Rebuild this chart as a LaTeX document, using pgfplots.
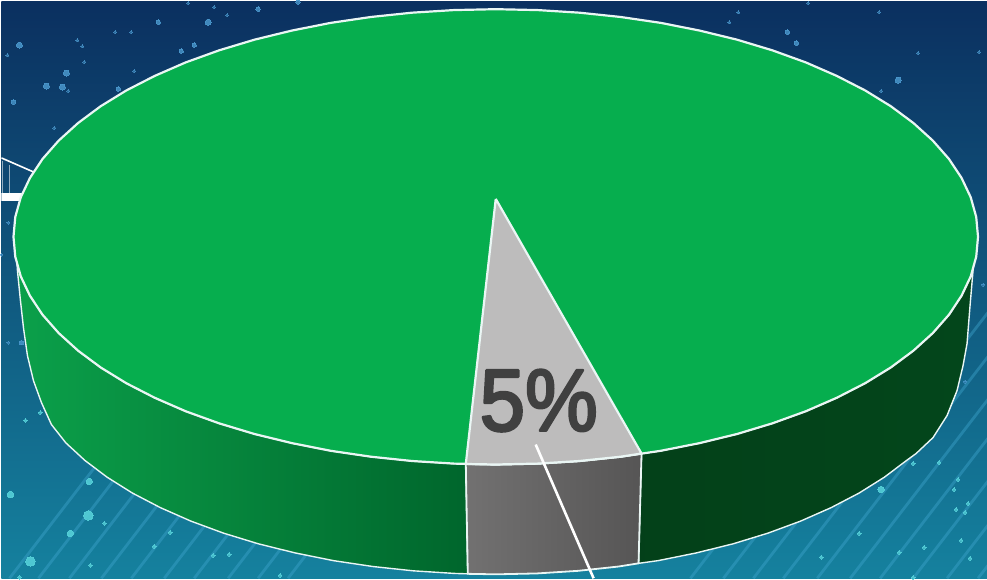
\documentclass[border=0pt]{standalone}
\usepackage{fontspec}
\setmainfont{Liberation Sans}
\newfontfamily\labelfont[FakeBold=3]{Liberation Sans}
\usepackage{pgfplots}
\pgfplotsset{compat=1.18}

\definecolor{bgtop}{HTML}{0B2F5F}
\definecolor{bgmid}{HTML}{0F5083}
\definecolor{bgbot}{HTML}{15829F}
\definecolor{pietop}{HTML}{06AE4E}
\definecolor{sideL}{HTML}{0BA04A}
\definecolor{sideM}{HTML}{00662C}
\definecolor{sideR}{HTML}{03461B}
\definecolor{sliceTop}{HTML}{BDBCBC}
\definecolor{sliceA}{HTML}{727171}
\definecolor{sliceB}{HTML}{565555}
\definecolor{edge}{HTML}{EAF6F4}
\definecolor{dustA}{HTML}{4A97CC}
\definecolor{dustB}{HTML}{55CFD8}
\definecolor{streak}{HTML}{3FA6CF}

\begin{document}
\begin{tikzpicture}
\begin{axis}[
    scale only axis,
    width=987pt,
    height=578pt,
    xmin=0,xmax=987,
    ymin=0,ymax=578,
    y dir=reverse,
    hide axis,
    unbounded coords=jump,
    line join=round
]
% background
\addplot[draw=none,top color=bgtop,middle color=bgmid,bottom color=bgbot]
    coordinates {(-6,-6) (993,-6) (993,584) (-6,584) (-6,-6)};

% diagonal streaks
\addplot[streak,opacity=.42,line width=2.8pt] coordinates {
    (8,578) (114,440) (8,nan)
    (37,578) (143,440) (37,nan)
    (68,578) (174,440) (68,nan)
    (100,578) (206,440) (100,nan)
    (130,578) (236,440) (130,nan)
    (163,578) (269,440) (163,nan)
    (193,578) (299,440) (193,nan)
    (227,578) (333,440) (227,nan)
    (257,578) (363,440) (257,nan)
    (287,578) (393,440) (287,nan)
    (690,578) (904,300) (690,nan)
    (723,578) (937,300) (723,nan)
    (753,578) (967,300) (753,nan)
    (783,578) (997,300) (783,nan)
    (817,578) (1031,300) (817,nan)
    (850,578) (1064,300) (850,nan)
    (880,578) (1094,300) (880,nan)
    (913,578) (1127,300) (913,nan)
    (947,578) (1161,300) (947,nan)
    (978,578) (1192,300)
};

% dust, upper part
\addplot[only marks,mark=*,mark size=3pt,mark options={draw=dustA,fill=dustA,line width=0pt,opacity=.85}] coordinates {
    (18,44) (65,72) (61,86) (45,85) (207,21) (898,79)
};
\addplot[only marks,mark=*,mark size=2.2pt,mark options={draw=dustA,fill=dustA,line width=0pt,opacity=.8}] coordinates {
    (180,50) (193,44) (157,21) (12,101) (117,88) (257,8) (297,1) (787,31) (796,42) (20,342)
};
\addplot[only marks,mark=*,mark size=1.5pt,mark options={draw=dustA,fill=dustA,line width=0pt,opacity=.6}] coordinates {
    (53,127) (76,39) (81,45) (83,61) (6,54) (67,90) (133,70) (114,31) (130,31) (226,14)
    (213,6) (187,2) (881,90) (808,2) (729,21) (738,11) (918,52) (979,51) (879,11)
    (7,222) (0,254) (7,342) (983,284) (965,381)
};

% dust, lower part
\addplot[only marks,mark=*,mark size=4.8pt,mark options={draw=dustB,fill=dustB,line width=0pt,opacity=.9}] coordinates {
    (29,561) (87,515)
};
\addplot[only marks,mark=*,mark size=3.2pt,mark options={draw=dustB,fill=dustB,line width=0pt,opacity=.9}] coordinates {
    (69,533) (88,481) (9,494) (881,489)
};
\addplot[only marks,mark=*,mark size=1.9pt,mark options={draw=dustB,fill=dustB,line width=0pt,opacity=.8}] coordinates {
    (103,523) (89,565) (169,532) (153,546) (212,555) (228,554) (39,412) (24,420) (18,577) (279,575)
    (859,533) (821,557) (899,552) (913,577) (913,463) (939,462) (958,479) (956,509) (968,503)
    (965,512) (954,489) (924,547) (961,540) (970,558)
};

% bridge behind the pie
\addplot[white,line width=8pt] coordinates {(0,196) (24,196)};
\addplot[white,line width=1.6pt] coordinates {(0,157) (32,171)};
\addplot[white,opacity=.55,line width=.9pt] coordinates {(1,160) (1,192) (1,nan) (8,164) (8,192)};

% side, left of the slice
\addplot[draw=edge,line width=1.4pt,left color=sideL,right color=sideM] coordinates {
    (465,463.5) (452.9,463.1) (411.2,460.5) (370,456.2) (329.8,450.3) (290.9,442.6) (253.5,433.5)
    (218,422.8) (184.5,410.7) (153.5,397.2) (125,382.6) (99.3,366.8) (76.7,350) (57.3,332.4)
    (41.1,314) (28.5,295) (19.3,275.6) (15.5,262)
    (16,270) (19,300) (22,327) (26,355) (32,380) (40,402) (50,424) (64.5,442.4) (83.6,460)
    (105.9,476.8) (131.1,492.6) (159.1,507.2) (189.7,520.7) (222.5,532.8) (257.5,543.5)
    (294.3,552.6) (332.5,560.3) (372.1,566.2) (412.5,570.5) (453.6,573.1) (467,573.5) (465,463.5)
};

% side, right of the slice
\addplot[draw=edge,line width=1.4pt,left color=sideR!92!black,right color=sideR] coordinates {
    (641,453) (660.2,450.3) (699.1,442.6) (736.5,433.5) (772,422.8) (805.5,410.7) (836.5,397.2)
    (865,382.6) (890.7,366.8) (913.3,350) (932.7,332.4) (948.9,314) (961.5,295) (970.7,275.6) (973.5,264)
    (970,305) (967,343) (963,365) (957,390) (947,415) (933,437) (916,453) (906.4,460)
    (884.1,476.8) (858.9,492.6) (830.9,507.2) (800.3,520.7) (767.5,532.8) (732.5,543.5)
    (695.7,552.6) (657.5,560.3) (638,563) (641,453)
};

% side of the slice
\addplot[draw=edge,line width=1.8pt,left color=sliceA,right color=sliceB] coordinates {
    (465,463.5) (495,464) (537.1,463.1) (578.8,460.5) (620,456.2) (641,453)
    (638,563) (617.9,566.2) (577.5,570.5) (536.4,573.1) (495,574) (467,573.5) (465,463.5)
};

% top of the pie, 95%
\addplot[draw=edge,line width=2.2pt,fill=pietop] coordinates {
    (978,236) (976.2,255.9) (970.7,275.6) (961.5,295) (948.9,314) (932.7,332.4) (913.3,350)
    (890.7,366.8) (865,382.6) (836.5,397.2) (805.5,410.7) (772,422.8) (736.5,433.5) (699.1,442.6)
    (660.2,450.3) (620,456.2) (578.8,460.5) (537.1,463.1) (495,464) (452.9,463.1) (411.2,460.5)
    (370,456.2) (329.8,450.3) (290.9,442.6) (253.5,433.5) (218,422.8) (184.5,410.7) (153.5,397.2)
    (125,382.6) (99.3,366.8) (76.7,350) (57.3,332.4) (41.1,314) (28.5,295) (19.3,275.6) (13.8,255.9)
    (12,236) (13.8,216.1) (19.3,196.4) (28.5,177) (41.1,158) (57.3,139.6) (76.7,122) (99.3,105.2)
    (125,89.4) (153.5,74.8) (184.5,61.3) (218,49.2) (253.5,38.5) (290.9,29.4) (329.8,21.7) (370,15.8)
    (411.2,11.5) (452.9,8.9) (495,8) (537.1,8.9) (578.8,11.5) (620,15.8) (660.2,21.7) (699.1,29.4)
    (736.5,38.5) (772,49.2) (805.5,61.3) (836.5,74.8) (865,89.4) (890.7,105.2) (913.3,122) (932.7,139.6)
    (948.9,158) (961.5,177) (970.7,196.4) (976.2,216.1) (978,236)
};

% top of the slice, 5%
\addplot[draw=edge,line width=2.2pt,fill=sliceTop] coordinates {
    (495,198) (641,453) (620,456.2) (578.8,460.5) (537.1,463.1) (495,464) (465,463.5) (495,198)
};

\node[text=black!75,font=\fontsize{88}{88}\selectfont\labelfont,xscale=.93] at (axis cs:538,400) {5\%};

% leader line
\addplot[white,line width=2.6pt] coordinates {(535,444) (593,578)};
\end{axis}
\end{tikzpicture}
\end{document}
